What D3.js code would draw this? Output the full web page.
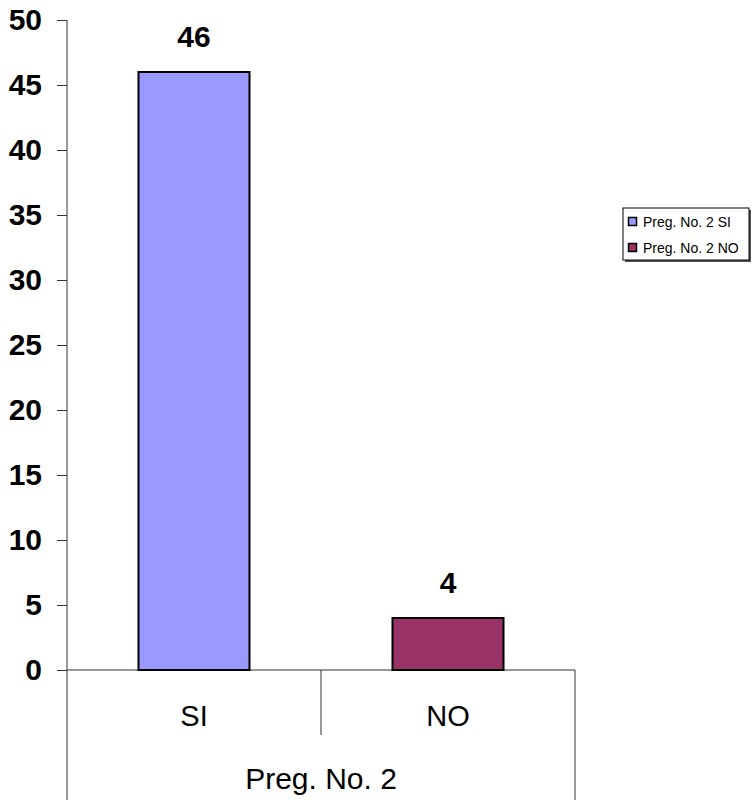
<!DOCTYPE html>
<html>
<head>
<meta charset="utf-8">
<script src="https://cdn.jsdelivr.net/npm/d3@7"></script>
<style>
  html, body { margin: 0; padding: 0; background: #fff; }
  svg { display: block; font-family: "Liberation Sans", Arial, sans-serif; }
</style>
</head>
<body>
<svg id="chart" width="755" height="800"></svg>
<script>
const categories = ["SI", "NO"];
const values = [46, 4];
const seriesNames = ["Preg. No. 2 SI", "Preg. No. 2 NO"];
const colors = ["#9999FF", "#993366"];
const groupLabel = "Preg. No. 2";
const yTicks = [0, 5, 10, 15, 20, 25, 30, 35, 40, 45, 50];

const svg = d3.select("#chart");
const plotLeft = 67, plotRight = 575, plotTop = 20, plotBase = 670;

const y = d3.scaleLinear().domain([0, 50]).range([plotBase, plotTop]);
const x = d3.scaleBand().domain(categories).range([plotLeft, plotRight]).padding(0);
const barW = x.bandwidth() * 111 / 254;

const axisColor = "#333";

// Y axis
const yAxis = d3.axisLeft(y).tickValues(yTicks).tickSize(10).tickPadding(15).tickFormat(d3.format("d"));
const gy = svg.append("g").attr("transform", `translate(${plotLeft},0)`).call(yAxis);
gy.select(".domain").remove();
gy.selectAll(".tick line").attr("stroke", axisColor);
gy.selectAll(".tick text")
  .attr("font-size", 30).attr("font-weight", "bold").attr("fill", "#000")
  .attr("font-family", "'Liberation Sans', Arial, sans-serif");

// vertical axis line extending to bottom
svg.append("line").attr("x1", plotLeft).attr("x2", plotLeft).attr("y1", plotTop).attr("y2", 800)
  .attr("stroke", axisColor).attr("stroke-width", 1);

// horizontal baseline
svg.append("line").attr("x1", plotLeft).attr("x2", plotRight).attr("y1", y(0)).attr("y2", y(0))
  .attr("stroke", axisColor).attr("stroke-width", 1);

// category separators
svg.append("line").attr("x1", x("NO")).attr("x2", x("NO")).attr("y1", y(0)).attr("y2", 735)
  .attr("stroke", axisColor);
svg.append("line").attr("x1", plotRight).attr("x2", plotRight).attr("y1", y(0)).attr("y2", 800)
  .attr("stroke", axisColor);

// bars
svg.selectAll("rect.bar").data(categories).enter().append("rect")
  .attr("class", "bar")
  .attr("x", d => x(d) + (x.bandwidth() - barW) / 2)
  .attr("y", (d, i) => y(values[i]))
  .attr("width", barW)
  .attr("height", (d, i) => y(0) - y(values[i]))
  .attr("fill", (d, i) => colors[i])
  .attr("stroke", "#000").attr("stroke-width", 2);

// value labels
svg.selectAll("text.val").data(categories).enter().append("text")
  .attr("class", "val")
  .attr("x", d => x(d) + x.bandwidth() / 2)
  .attr("y", (d, i) => y(values[i]) - 25)
  .attr("text-anchor", "middle")
  .attr("font-size", 30).attr("font-weight", "bold")
  .text((d, i) => values[i]);

// category labels
svg.selectAll("text.cat").data(categories).enter().append("text")
  .attr("class", "cat")
  .attr("x", d => x(d) + x.bandwidth() / 2)
  .attr("y", 726)
  .attr("text-anchor", "middle")
  .attr("font-size", 29)
  .text(d => d);

// group label
svg.append("text")
  .attr("x", (plotLeft + plotRight) / 2).attr("y", 789)
  .attr("text-anchor", "middle").attr("font-size", 30)
  .text(groupLabel);

// legend
const lg = svg.append("g");
lg.append("rect").attr("x", 625).attr("y", 210).attr("width", 126).attr("height", 52).attr("fill", "#555");
lg.append("rect").attr("x", 623).attr("y", 208).attr("width", 126).attr("height", 52)
  .attr("fill", "#fff").attr("stroke", "#000").attr("stroke-width", 1);
seriesNames.forEach((name, i) => {
  const yy = 217 + i * 26;
  lg.append("rect").attr("x", 628.5).attr("y", yy + 0.5).attr("width", 8).attr("height", 8)
    .attr("fill", colors[i]).attr("stroke", "#000").attr("stroke-width", 1.5);
  lg.append("text").attr("x", 643).attr("y", yy + 10).attr("font-size", 14).text(name);
});
</script>
</body>
</html>
